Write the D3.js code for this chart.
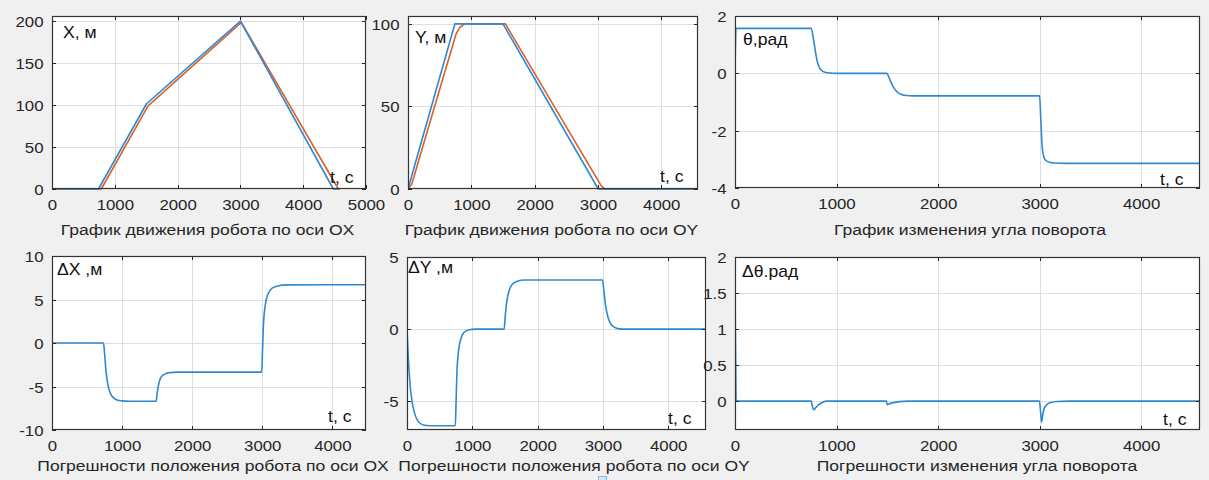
<!DOCTYPE html>
<html><head><meta charset="utf-8">
<script src="https://cdn.jsdelivr.net/npm/d3@7"></script>
<style>
html,body{margin:0;padding:0;background:#f0f0f0;}
svg{display:block;}
text{font-family:"Liberation Sans",Arial,sans-serif;fill:#262626;}
</style></head>
<body>
<svg id="c" width="1209" height="480"></svg>
<script>
// ---------- DATA ----------
// Panel 1: X(t)
const tXblue   = [0, 740, 1505, 3000, 4480, 4580];
const vXblue   = [0, 0, 101.5, 200, 0, 0];
const tXorange = [0, 785, 1530, 3015, 4560, 4580];
const vXorange = [0, 0, 99, 198.5, 0, 0];
// Panel 2: Y(t)
const tYblue   = [0, 740, 1500, 3005, 4580];
const vYblue   = [0, 100, 100, 0, 0];
const tYorange = [0, 60, 420, 760, 820, 900, 1540, 1600, 3050, 3110, 4580];
const vYorange = [0, 3, 50, 94, 98, 100, 100, 96, 2, 0, 0];
// Panel 3: theta(t)
const tTh = [0, 10, 750, 775, 795, 815, 840, 870, 910, 960, 1000, 1495, 1525, 1560, 1600, 1640, 1690, 1750, 3000, 3012, 3025, 3045, 3065, 3095, 3150, 3250, 4580];
const vTh = [0, 1.57, 1.57, 1.15, 0.7, 0.35, 0.15, 0.06, 0.02, 0.005, 0, 0, -0.22, -0.48, -0.66, -0.74, -0.775, -0.785, -0.785, -1.6, -2.55, -2.95, -3.05, -3.1, -3.13, -3.14, -3.14];
// Panel 4: dX(t)
const tDX = [0, 735, 750, 770, 800, 840, 880, 930, 1000, 1100, 1485, 1500, 1520, 1550, 1600, 1680, 1800, 2993, 3003, 3015, 3040, 3080, 3140, 3220, 3350, 4480];
const vDX = [0, 0, -1.2, -3.2, -4.9, -5.9, -6.3, -6.55, -6.65, -6.7, -6.7, -5.8, -4.8, -4.0, -3.6, -3.4, -3.35, -3.35, -1.0, 1.8, 4.2, 5.6, 6.3, 6.55, 6.68, 6.7];
// Panel 5: dY(t)
const tDY = [0, 20, 50, 80, 120, 170, 250, 350, 740, 752, 765, 790, 830, 880, 950, 1050, 1488, 1505, 1525, 1560, 1610, 1680, 1800, 2995, 3015, 3040, 3080, 3130, 3200, 3300, 4580];
const vDY = [0, -2, -4, -5.1, -5.9, -6.4, -6.65, -6.7, -6.7, -5.0, -3.0, -1.5, -0.6, -0.2, -0.05, 0, 0, 0.9, 1.8, 2.6, 3.1, 3.3, 3.4, 3.4, 2.7, 1.7, 0.8, 0.3, 0.08, 0, 0];
// Panel 6: dTheta(t)
const tDTh = [0, 10, 20, 750, 762, 775, 790, 815, 850, 900, 1490, 1500, 1515, 1560, 1620, 1700, 2998, 3010, 3020, 3030, 3045, 3070, 3110, 3170, 3300, 4580];
const vDTh = [1.57, 0.02, 0, 0, -0.07, -0.12, -0.1, -0.06, -0.025, 0, 0, -0.05, -0.04, -0.02, -0.006, 0, 0, -0.15, -0.29, -0.2, -0.1, -0.05, -0.02, -0.005, 0, 0];

// Ticks
const ticksT5000 = [0, 1000, 2000, 3000, 4000, 5000];
const ticksT4000 = [0, 1000, 2000, 3000, 4000];
const ticksX  = [0, 50, 100, 150, 200];
const ticksY  = [0, 50, 100];
const ticksTh = [-4, -2, 0, 2];
const ticksDX = [-10, -5, 0, 5, 10];
const ticksDY = [-5, 0, 5];
const ticksDTh = [0, 0.5, 1, 1.5, 2];

// Labels
const titles = ["График движения робота по оси OX", "График движения робота по оси OY", "График изменения угла поворота",
  "Погрешности положения робота по оси OX", "Погрешности положения робота по оси OY", "Погрешности изменения угла поворота"];
const yNames = ["X, м", "Y, м", "θ,рад", "ΔX ,м", "ΔY ,м", "Δθ.рад"];
const tName = "t, с";

// ---------- LAYOUT ----------
const BLUE = "#2f88d2", ORANGE = "#dc5f2a";
const zip = (t, v) => t.map((d, i) => [d, v[i]]);
const panels = [
  {l:52, r:366, t:16, b:189, xd:[0,5000], yd:[0,206], xt:ticksT5000, yt:ticksX,
   series:[[zip(tXorange,vXorange),ORANGE],[zip(tXblue,vXblue),BLUE]], curve:d3.curveLinear,
   name:[63,38], tl:[330,183], title:[207.5,235]},
  {l:408, r:698, t:16, b:189, xd:[0,4580], yd:[0,104.8], xt:ticksT4000, yt:ticksY,
   series:[[zip(tYorange,vYorange),ORANGE],[zip(tYblue,vYblue),BLUE]], curve:d3.curveLinear,
   name:[415,43], tl:[660,182], title:[551.5,235]},
  {l:735, r:1200, t:16, b:188, xd:[0,4580], yd:[-4,2], xt:ticksT4000, yt:ticksTh,
   series:[[zip(tTh,vTh),BLUE]], curve:d3.curveMonotoneX,
   name:[743,45], tl:[1160,185], title:[970,235]},
  {l:52, r:366, t:256, b:430, xd:[0,4480], yd:[-10,10], xt:ticksT4000, yt:ticksDX,
   series:[[zip(tDX,vDX),BLUE]], curve:d3.curveMonotoneX,
   name:[57,275], tl:[328,422], title:[213,471]},
  {l:407, r:706, t:257, b:430, xd:[0,4580], yd:[-7,5], xt:ticksT4000, yt:ticksDY,
   series:[[zip(tDY,vDY),BLUE]], curve:d3.curveMonotoneX,
   name:[408,273], tl:[668,424], title:[574,471]},
  {l:735, r:1200, t:257, b:430, xd:[0,4580], yd:[-0.4,2], xt:ticksT4000, yt:ticksDTh,
   series:[[zip(tDTh,vDTh),BLUE]], curve:d3.curveMonotoneX,
   name:[742,277], tl:[1163,425], title:[977,471]}
];

const svg = d3.select("#c");
svg.append("rect").attr("width",1209).attr("height",480).attr("fill","#f0f0f0");
const SX = 1.12;
function txt(g, x, y, s, anchor, size, sx) {
  return g.append("text").attr("transform", `translate(${x},${y}) scale(${sx||SX},1)`)
    .attr("text-anchor", anchor).attr("font-size", size).text(s);
}

panels.forEach((p, i) => {
  const g = svg.append("g");
  const x = d3.scaleLinear().domain(p.xd).range([p.l, p.r]);
  const y = d3.scaleLinear().domain(p.yd).range([p.b, p.t]);
  g.append("rect").attr("x",p.l).attr("y",p.t).attr("width",p.r-p.l).attr("height",p.b-p.t).attr("fill","#fff");
  // grid
  const xg = p.xt.filter(v => v > p.xd[0] && v < p.xd[1]);
  const yg = p.yt.filter(v => v > p.yd[0] && v < p.yd[1]);
  g.selectAll(".gx").data(xg).join("line").attr("x1",d=>Math.round(x(d))+0.5).attr("x2",d=>Math.round(x(d))+0.5)
    .attr("y1",p.t).attr("y2",p.b).attr("stroke","#dedede").attr("stroke-width",1);
  g.selectAll(".gy").data(yg).join("line").attr("y1",d=>Math.round(y(d))+0.5).attr("y2",d=>Math.round(y(d))+0.5)
    .attr("x1",p.l).attr("x2",p.r).attr("stroke","#dedede").attr("stroke-width",1);
  // series
  const clipId = "clip"+i;
  g.append("clipPath").attr("id",clipId).append("rect").attr("x",p.l).attr("y",p.t-2).attr("width",p.r-p.l).attr("height",p.b-p.t+3);
  const line = d3.line().x(d=>x(d[0])).y(d=>y(d[1])).curve(p.curve);
  p.series.forEach(([data,col]) => {
    g.append("path").attr("d", line(data)).attr("fill","none").attr("stroke",col)
      .attr("stroke-width",1.6).attr("stroke-linejoin","round").attr("clip-path",`url(#${clipId})`);
  });
  // axes via d3
  const xAx = d3.axisBottom(x).tickValues(p.xt).tickSize(0).tickPadding(0).tickFormat(d3.format("d"));
  const yAx = d3.axisLeft(y).tickValues(p.yt).tickSize(0).tickPadding(0).tickFormat(d => String(d));
  const gx = g.append("g").attr("transform",`translate(0,${p.b})`).call(xAx);
  const gy = g.append("g").attr("transform",`translate(${p.l},0)`).call(yAx);
  [gx, gy].forEach(a => { a.select(".domain").remove(); a.selectAll("text").remove(); });
  gx.selectAll(".tick").each(function(d){
    txt(d3.select(this), 0, 21, d3.format("d")(d), "middle", 15);
  });
  gy.selectAll(".tick").each(function(d){
    txt(d3.select(this), -8.5, 5.5, String(d), "end", 15);
  });
  // tick marks (inward)
  const tk = g.append("g").attr("stroke","#262626").attr("stroke-width",1);
  p.xt.forEach(v => { const xx = Math.round(x(v))+0.5;
    tk.append("line").attr("x1",xx).attr("x2",xx).attr("y1",p.b).attr("y2",p.b-4);
    tk.append("line").attr("x1",xx).attr("x2",xx).attr("y1",p.t).attr("y2",p.t+4); });
  p.yt.forEach(v => { const yy = Math.round(y(v))+0.5;
    tk.append("line").attr("y1",yy).attr("y2",yy).attr("x1",p.l).attr("x2",p.l+4);
    tk.append("line").attr("y1",yy).attr("y2",yy).attr("x1",p.r).attr("x2",p.r-4); });
  // frame
  g.append("rect").attr("x",p.l+0.5).attr("y",p.t+0.5).attr("width",p.r-p.l-1).attr("height",p.b-p.t-1)
    .attr("fill","none").attr("stroke","#333").attr("stroke-width",1.2);
  // labels
  txt(g, p.name[0], p.name[1], yNames[i], "start", 16, 1.1).style("fill","#111");
  txt(g, p.tl[0], p.tl[1], tName, "start", 16, 1.1).style("fill","#111");
  txt(g, p.title[0], p.title[1], titles[i], "middle", 15, 1.17);
});
// small UI square at the bottom edge
svg.append("rect").attr("x",598.5).attr("y",476.5).attr("width",8).attr("height",6)
  .attr("fill","#d6e6f5").attr("stroke","#8ab8e2");
</script>
</body></html>
